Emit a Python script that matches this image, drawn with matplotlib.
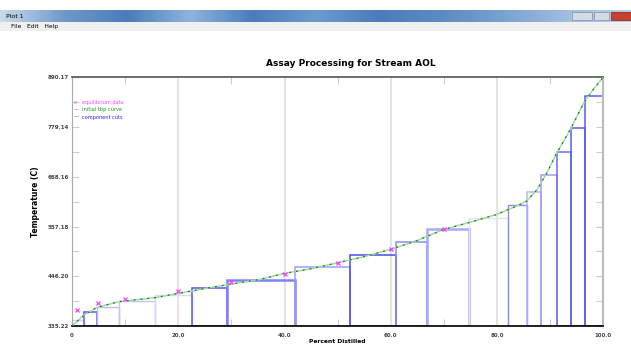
import numpy as np
import matplotlib.pyplot as plt
from matplotlib.colors import LinearSegmentedColormap

# component cuts: start/end percent distilled, cut temperature
cut_start = [0.0, 2.32, 4.76, 8.85, 15.6, 22.5, 29.1, 41.97, 52.4, 60.9,
             66.8, 74.8, 82.0, 85.6, 88.2, 91.3, 93.98, 96.56]
cut_end = cut_start[1:] + [100.0]
cut_temp = [348.6, 365.8, 378.3, 391.7, 405.5, 419.3, 437.9, 466.2, 493.7, 523.1,
            551.7, 575.6, 606.3, 633.6, 671.5, 722.8, 777.7, 848.5]

# initial tbp curve
tbp_x = [0, 2.3, 4.76, 8.85, 15.6, 20, 27, 35.3, 40, 45, 49.9, 55, 59.9,
         65, 69.8, 75, 79.9, 83.7, 85.6, 87.5, 89.3, 91.1, 93.9, 96.4, 98.3, 100]
tbp_t = [335.22, 360, 377, 389.5, 398.4, 408, 423, 439, 452.6, 463, 476, 490, 506,
         526, 550, 567, 584, 603, 614, 639, 675, 718, 776, 835, 866, 890.17]

# equilibrium data
eq_x = [1.0, 4.95, 10.0, 20.0, 30.0, 40.0, 50.0, 60.0, 70.0]
eq_t = [370.9, 387.2, 395.5, 414.0, 432.7, 451.3, 475.1, 506.4, 551.0]

yticks = [335.22, 446.20, 557.18, 668.16, 779.14, 890.17]
ytick_labels = ["335.22", "446.20", "557.18", "668.16", "779.14", "890.17"]
xticks = [0, 20, 40, 60, 80, 100]
xtick_labels = ["0", "20.0", "40.0", "60.0", "80.0", "100.0"]

# box edge styles
box_colors = ['#d0d0ff', '#5a5aff', '#bcbcff', '#c4c4f8', '#d8d8ff', '#5858f0',
              '#8080ff', '#9c9cff', '#4a4ae8', '#8a8aff', '#a8a8ff', '#e2e2ff',
              '#8a8af0', '#b4b4ff', '#9a9aff', '#6a6aff', '#5a5aff', '#5a5aff']
box_lw = [1, 1.1, 1, 1, 1, 1.1, 1.8, 1.1, 1.1, 1.1, 1.8, 1, 1, 1.1, 1.1, 1.1, 1.1, 1.1]

fig = plt.figure(figsize=(6.31, 3.6), dpi=100)
fig.patch.set_facecolor('white')

# window chrome: title bar and menu bar
bar = fig.add_axes([0, 1 - 22 / 360, 1, 12 / 360])
cmap = LinearSegmentedColormap.from_list(
    'bar', ['#c9d9ec', '#6f98c8', '#4a7cbc', '#8fb4dc', '#4a7cbc', '#6d9bd0',
            '#4a7cbc', '#5d8ac4', '#7aa1d0', '#9fbde0', '#b7cde8'])
bar.imshow(np.linspace(0, 1, 300).reshape(1, -1), aspect='auto', cmap=cmap,
           extent=(0, 631, 0, 12))
bar.set_xlim(0, 631)
bar.set_ylim(0, 12)
bar.axis('off')
bar.text(6, 6, "Plot 1", fontsize=4.5, va='center', color='black')
bar.add_patch(plt.Rectangle((572, 2), 20, 8, color='#d4dbe6', ec='#8090a8', lw=0.5))
bar.add_patch(plt.Rectangle((594, 2), 15, 8, color='#d4dbe6', ec='#8090a8', lw=0.5))
bar.add_patch(plt.Rectangle((611, 2), 20, 8, color='#c8402c', ec='#802010', lw=0.5))

menu = fig.add_axes([0, 1 - 31 / 360, 1, 9 / 360])
menu.set_facecolor('#f0f0f0')
menu.set_xlim(0, 631)
menu.set_ylim(0, 9)
menu.set_xticks([])
menu.set_yticks([])
for s in menu.spines.values():
    s.set_visible(False)
menu.text(11, 4.5, "File   Edit   Help", fontsize=4.3, va='center')

ax = fig.add_axes([72 / 631, 1 - 326 / 360, 531.3 / 631, 248.7 / 360])

for xv in [20, 40, 60, 80]:
    ax.axvline(xv, color='#e2e2e2', lw=1.3, zorder=0)

widths = np.array(cut_end) - np.array(cut_start)
heights = np.array(cut_temp) - yticks[0]
ax.bar(cut_start, heights, width=widths, bottom=yticks[0], align='edge',
       fill=False, edgecolor=box_colors, linewidth=box_lw, zorder=2)

ax.plot(tbp_x, tbp_t, color='#a2dca2', lw=1.1, zorder=3)
ax.plot(tbp_x, tbp_t, color='#1f7a1f', lw=0.9, ls=(0, (1.5, 4)), zorder=3)
ax.plot(eq_x, eq_t, ls='none', marker='x', color='#ff40ff', ms=3.5, mew=0.9, zorder=4)

# legend as coloured labels
leg_labels = ["equilibrium data", "initial tbp curve", "component cuts"]
leg_colors = ['#ff40ff', '#1f8f1f', '#2020ff']
for i, (lab, c) in enumerate(zip(leg_labels, leg_colors)):
    yy = 0.898 - i * 0.029
    ax.text(0.004, yy, "x" if i == 0 else "\u2014", transform=ax.transAxes,
            fontsize=3.6, color=c, va='center', ha='left')
    ax.text(0.018, yy, lab, transform=ax.transAxes, fontsize=3.6, color=c,
            va='center', ha='left')

ax.set_xlim(0, 100)
ax.set_ylim(yticks[0], yticks[-1])
ax.set_xticks(xticks)
ax.set_xticklabels(xtick_labels, fontsize=4, fontweight='bold', color='#444444')
ax.set_yticks(yticks)
ax.set_yticklabels(ytick_labels, fontsize=4, fontweight='bold', color='#444444')
ax.set_xticks([10, 30, 50, 70, 90], minor=True)
ax.set_yticks([(a + b) / 2 for a, b in zip(yticks[:-1], yticks[1:])], minor=True)
ax.tick_params(axis='both', which='both', direction='in', color='#cccccc',
               top=True, right=True, length=5, width=0.8, pad=2)
ax.tick_params(axis='x', which='major', length=0, pad=5)

ax.spines['top'].set_color('#555555')
ax.spines['top'].set_linewidth(1.2)
ax.spines['bottom'].set_color('black')
ax.spines['bottom'].set_linewidth(1.2)
ax.spines['left'].set_color('#aaaaaa')
ax.spines['right'].set_color('#bbbbbb')
ax.spines['right'].set_linewidth(1.5)

ax.set_title("Assay Processing for Stream AOL", fontsize=6.5, fontweight='bold',
             pad=8, x=0.525)
ax.set_xlabel("Percent Distilled", fontsize=4.3, fontweight='bold', labelpad=1)
ax.set_ylabel("Temperature (C)", fontsize=5.5, fontweight='bold', labelpad=6)

fig.savefig("out.png", dpi=100)
